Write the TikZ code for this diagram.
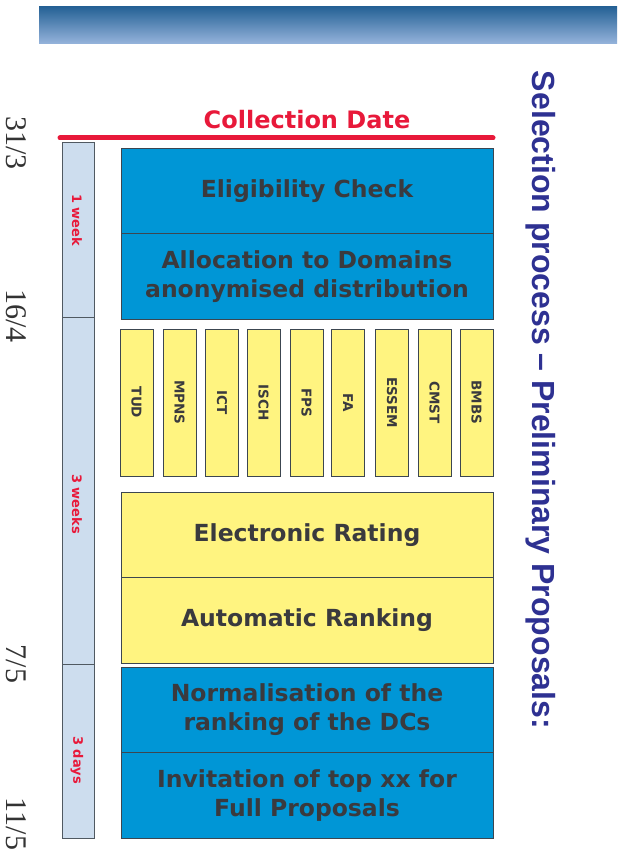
\documentclass[tikz,border=0pt]{standalone}
\usepackage{fontspec}
\usepackage{tikz}
\usetikzlibrary{positioning}

\newfontfamily\boxfont{DejaVu Sans}
\newfontfamily\titlefont{Liberation Sans}
\newfontfamily\datefont{Liberation Serif}

\definecolor{stepblue}{RGB}{0,150,214}
\definecolor{stepyellow}{RGB}{255,244,128}
\definecolor{linegray}{RGB}{60,70,80}
\definecolor{textgray}{RGB}{58,58,62}
\definecolor{alertred}{RGB}{232,25,58}
\definecolor{timefill}{RGB}{205,221,238}
\definecolor{titlenavy}{RGB}{46,49,146}
\definecolor{bartop}{RGB}{38,98,150}
\definecolor{barbottom}{RGB}{150,180,220}

\begin{document}
\begin{tikzpicture}[x=1pt,y=-1pt,
  stagebox/.style={draw=linegray,line width=0.8pt,outer sep=0pt,
    minimum width=372,minimum height=85.5,align=center,
    text=textgray,font=\boxfont\bfseries\fontsize{23.5}{29}\selectfont},
  bluestage/.style={stagebox,fill=stepblue},
  yellowstage/.style={stagebox,fill=stepyellow},
  domainbox/.style={draw=linegray,line width=0.8pt,fill=stepyellow,rotate=-90,
    minimum width=147,minimum height=33,inner sep=0pt,
    text=textgray,font=\boxfont\bfseries\fontsize{13.5}{15}\selectfont},
  timebox/.style={draw=linegray!90,line width=0.8pt,fill=timefill,rotate=-90,
    minimum height=32,outer sep=0pt},
  timelabel/.style={rotate=-90,text=alertred,font=\boxfont\bfseries\fontsize{13}{15}\selectfont},
  datelabel/.style={rotate=-90,text=black!80,font=\datefont\fontsize{30}{32}\selectfont}]

  \fill[white] (0,0) rectangle (623,850);
  \useasboundingbox (0,0) rectangle (623,850);

  % header bar
  \path[top color=bartop,bottom color=barbottom] (39,7) rectangle (617,44);

  % title
  \node[rotate=-90,text=titlenavy,font=\titlefont\bfseries\fontsize{32}{34}\selectfont] (title) at (541,400)
    {Selection process \textendash\ Preliminary Proposals:};

  % collection date
  \node[text=alertred,font=\boxfont\bfseries\fontsize{24}{26}\selectfont] (collect) at (307,120) {Collection Date};
  \draw[alertred,line width=5pt,line cap=round] (60,138) -- (493,138);

  % timeline
  \node[timebox,minimum width=175] (week1) at (78,229.5) {};
  \node[timebox,minimum width=347] (weeks3) at (78,490.5) {};
  \node[timebox,minimum width=174] (days3) at (78,751) {};
  \node[timelabel] (week1lbl) at (77,220) {1 week};
  \node[timelabel] (weeks3lbl) at (77,504) {3 weeks};
  \node[timelabel] (days3lbl) at (77,760) {3 days};

  % dates
  \node[datelabel] (d1) at (16,143) {31/3};
  \node[datelabel] (d2) at (16,316) {16/4};
  \node[datelabel] (d3) at (16,664) {7/5};
  \node[datelabel] (d4) at (16,824) {11/5};

  % stages
  \node[bluestage] (elig) at (307,191) {Eligibility Check};
  \node[bluestage,below=0pt of elig] (alloc) {Allocation to Domains\\anonymised distribution};

  \foreach \dom/\xc in {TUD/136.5,MPNS/179.5,ICT/222,ISCH/263.5,FPS/306.5,FA/348,ESSEM/392,CMST/434.5,BMBS/476.5}
    \node[domainbox] (\dom) at (\xc,402.5) {\dom};

  \node[yellowstage] (rating) at (307,535) {Electronic Rating};
  \node[yellowstage,below=0pt of rating] (ranking) {Automatic Ranking};

  \node[bluestage] (norm) at (307,710) {Normalisation of the\\ranking of the DCs};
  \node[bluestage,below=0pt of norm] (invite) {Invitation of top xx for\\Full Proposals};
\end{tikzpicture}
\end{document}
